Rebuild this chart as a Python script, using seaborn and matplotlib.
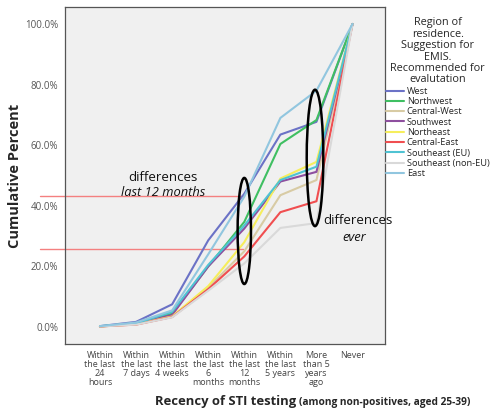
import numpy as np
import pandas as pd
import matplotlib
matplotlib.use('Agg')
import matplotlib.pyplot as plt
from matplotlib.patches import Ellipse
import seaborn as sns

# Categorias do eixo x
categories = ['Within\nthe last\n24\nhours', 'Within\nthe last\n7 days', 'Within\nthe last\n4 weeks',
              'Within\nthe last\n6\nmonths', 'Within\nthe last\n12\nmonths', 'Within\nthe last\n5 years',
              'More\nthan 5\nyears\nago', 'Never']

regions = ['West', 'Northwest', 'Central-West', 'Southwest', 'Northeast',
           'Central-East', 'Southeast (EU)', 'Southeast (non-EU)', 'East']

# Percentual acumulado por região
west = [0.3, 1.7, 7.5, 28.6, 44.0, 63.5, 67.7, 100.0]
northwest = [0.2, 1.3, 4.4, 20.0, 34.7, 60.4, 68.3, 100.0]
central_west = [0.2, 0.9, 3.5, 13.0, 25.0, 43.5, 48.5, 100.0]
southwest = [0.2, 1.1, 4.0, 20.0, 32.5, 48.0, 51.2, 100.0]
northeast = [0.2, 0.9, 3.5, 13.5, 28.0, 49.0, 54.5, 100.0]
central_east = [0.2, 0.8, 3.3, 12.5, 23.3, 37.9, 41.5, 100.0]
southeast_eu = [0.3, 1.2, 5.0, 20.5, 33.5, 48.5, 52.9, 100.0]
southeast_non_eu = [0.2, 0.8, 3.2, 12.0, 21.0, 32.7, 34.3, 100.0]
east = [0.3, 1.5, 5.5, 24.0, 43.0, 69.0, 78.0, 100.0]

series = [west, northwest, central_west, southwest, northeast,
          central_east, southeast_eu, southeast_non_eu, east]

colors = ['#6b72c6', '#3fbf62', '#d8cba4', '#8e4f9f', '#f6ee5c',
          '#f04e50', '#4fc3d3', '#d9d9d9', '#91c6df']

# Linhas de referência
ref_levels = [43.2, 25.9]

rows = []
for reg, vals in zip(regions, series):
   for i, v in enumerate(vals):
      rows.append({'pos': i, 'value': v, 'region': reg})
df = pd.DataFrame(rows)

sns.set_style('white')
plt.rcParams['font.family'] = ['Open Sans', 'DejaVu Sans']

fig = plt.figure(figsize=(5.0, 4.11), dpi=100)
ax = fig.add_axes([0.13, 0.163, 0.64, 0.82])
ax.set_facecolor('#f0f0f0')

sns.lineplot(data=df, x='pos', y='value', hue='region', hue_order=regions,
             palette=dict(zip(regions, colors)), linewidth=1.5, ax=ax,
             legend=True)

ax.set_xlim(-0.97, 7.9)
ax.set_ylim(-5.6, 105.6)
ax.set_xticks(range(len(categories)))
ax.set_xticklabels(categories, fontsize=6.5, linespacing=1.0, color='#444444')
ax.set_yticks([0, 20, 40, 60, 80, 100])
ax.set_yticklabels([f'{v:.1f}%' for v in [0, 20, 40, 60, 80, 100]], fontsize=7, color='#555555')
ax.tick_params(axis='both', direction='out', length=3, width=0.8, color='#333333', pad=2)
for s in ax.spines.values():
   s.set_color('#555555')
   s.set_linewidth(0.9)

ax.set_ylabel('Cumulative Percent', fontsize=10.5, fontweight='bold', labelpad=2)
ax.set_xlabel('')
fig.text(0.31, 0.014, 'Recency of STI testing', fontsize=9.4, fontweight='bold', ha='left', va='baseline')
fig.text(0.598, 0.014, '(among non-positives, aged 25-39)', fontsize=7.3, fontweight='bold',
         ha='left', va='baseline')

# Linhas horizontais vermelhas
for lv in ref_levels:
   ax.plot([-1.67, 3.97], [lv, lv], color='#f48080', linewidth=1.0, clip_on=False, zorder=1)

# Elipses
ax.add_patch(Ellipse((4.0, 31.7), 0.37, 35, fill=False, edgecolor='black', linewidth=1.8, zorder=5))
ax.add_patch(Ellipse((5.96, 55.8), 0.46, 45, fill=False, edgecolor='black', linewidth=1.8, zorder=5))

ax.text(1.75, 49.5, 'differences', fontsize=9.5, ha='center', va='center', color='#111111')
ax.text(1.75, 44.3, 'last 12 months', fontsize=9.3, ha='center', va='center',
        style='italic', color='#111111')
ax.text(6.18, 35.3, 'differences', fontsize=9.5, ha='left', va='center', color='#111111', clip_on=False)
ax.text(7.05, 29.7, 'ever', fontsize=9.3, ha='center', va='center', style='italic', color='#111111')

# Legenda fora do eixo
handles, labels = ax.get_legend_handles_labels()
ax.legend(handles, labels, loc='upper left', bbox_to_anchor=(0.768, 0.962),
          bbox_transform=fig.transFigure, frameon=False, fontsize=6.7,
          title='Region of\nresidence.\nSuggestion for\nEMIS.\nRecommended for\nevalutation',
          title_fontsize=7.8, handlelength=2.0, handletextpad=0.25, labelspacing=0.14,
          borderaxespad=0, borderpad=0.2)
ax.get_legend().get_title().set_multialignment('center')
ax.get_legend().get_title().set_linespacing(1.05)

fig.savefig('out.png', dpi=100)
